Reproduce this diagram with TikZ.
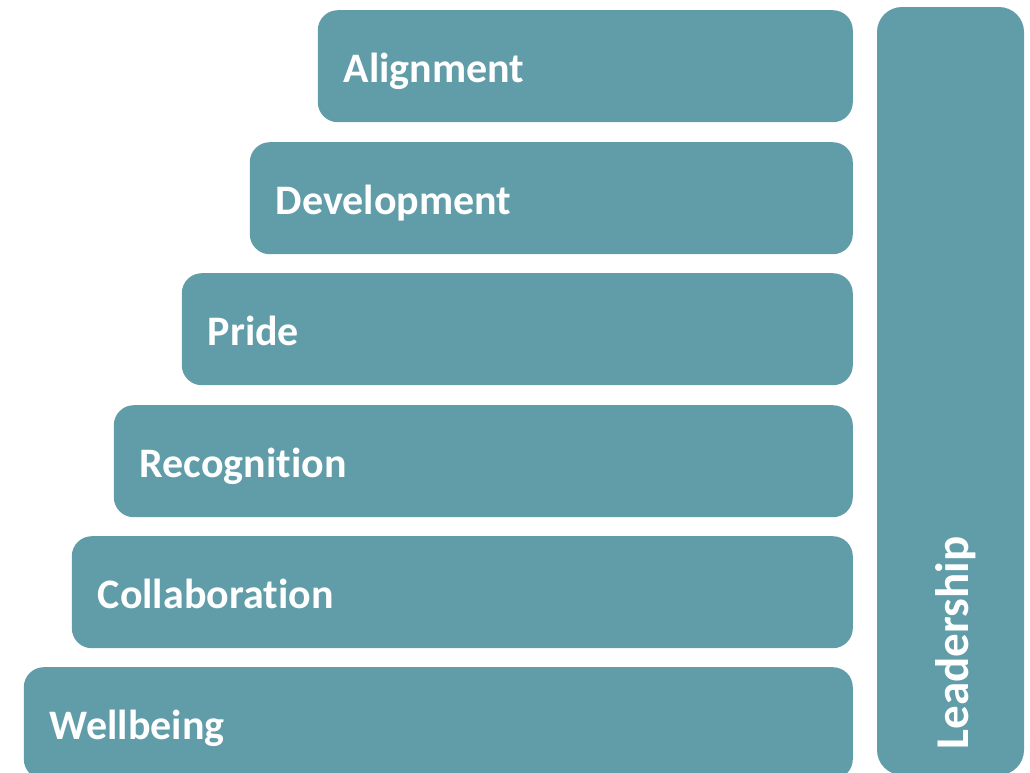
\documentclass[tikz,border=0pt]{standalone}
\usepackage{fontspec}
\setmainfont{Carlito}[Ligatures=NoCommon]
\definecolor{stepteal}{RGB}{96,157,169}

\begin{document}
\begin{tikzpicture}[x=1pt,y=-1pt]
\tikzstyle{stepbox}=[fill=stepteal, rounded corners=20pt, anchor=north east, minimum height=112pt, inner xsep=26pt, inner ysep=0pt, text height=32pt, text depth=0pt, align=left, text=white, font=\fontsize{42}{50}\selectfont\bfseries]
\useasboundingbox (0,0) rectangle (1030,772);
\clip (0,0) rectangle (1030,772);
\node[stepbox, text width=483pt] (alignment) at (853,10) {Alignment};
\node[stepbox, text width=551pt] (development) at (853,142) {Development};
\node[stepbox, text width=619pt] (pride) at (853,273) {Pride};
\node[stepbox, text width=687pt] (recognition) at (853,405) {Recognition};
\node[stepbox, text width=729pt] (collaboration) at (853,536) {Collaboration};
\node[stepbox, text width=777pt] (wellbeing) at (853,667) {Wellbeing};
\node[stepbox, rounded corners=25pt, anchor=center, rotate=90, minimum height=147pt, text height=35pt, text width=716pt, font=\fontsize{47}{55}\selectfont\bfseries] (leadership) at (950.5,391) {Leadership};
\end{tikzpicture}
\end{document}
